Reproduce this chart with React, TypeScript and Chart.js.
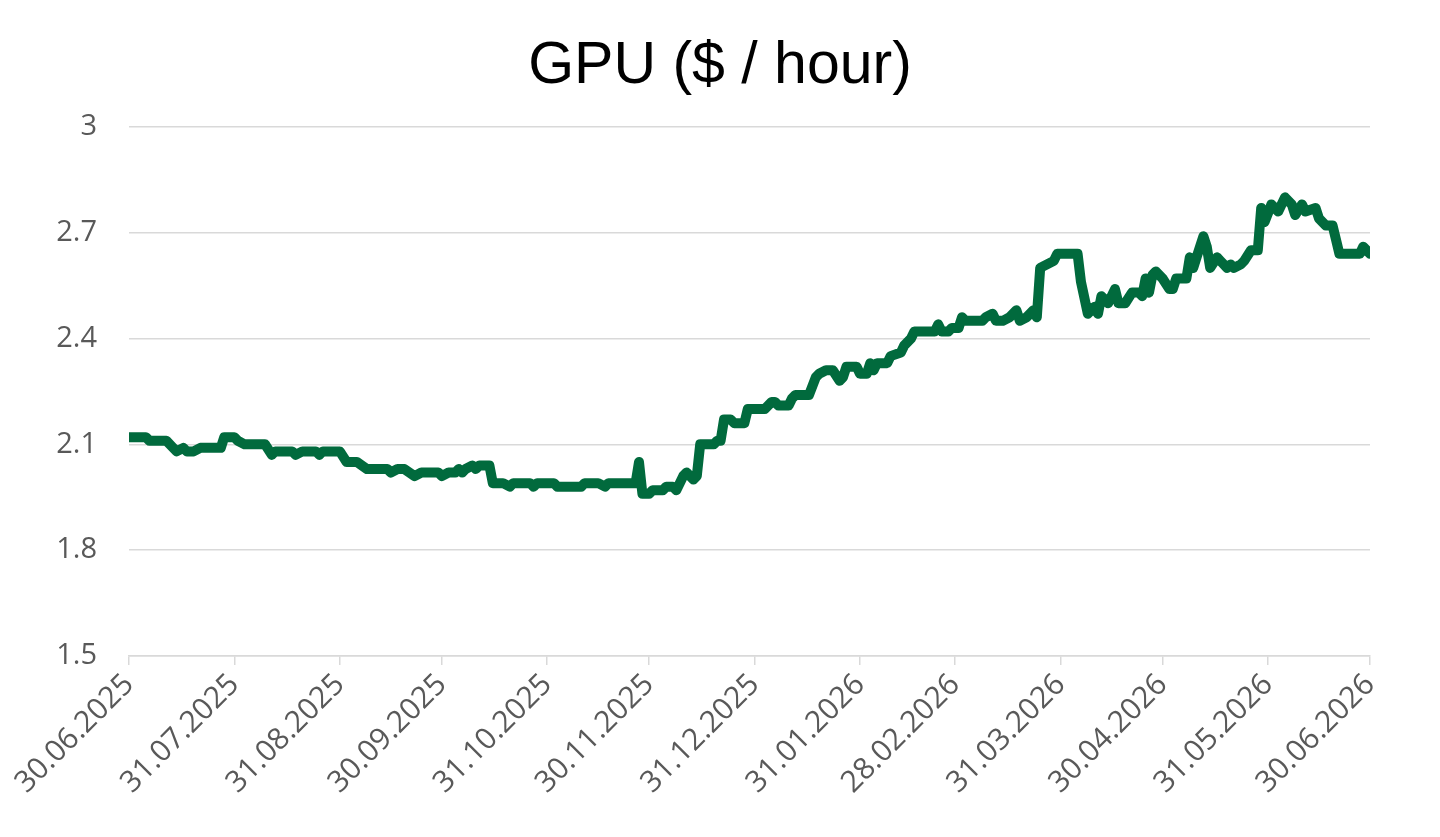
import { useEffect, useRef } from "react";
import { Chart, registerables } from "chart.js";

Chart.register(...registerables);

// Days counted from 30.06.2025
const dayOffsets = [
  0, 5, 6, 11, 13, 14, 16, 17, 19, 21, 27, 28, 31, 32, 34, 40, 42, 43, 48, 49,
  51, 55, 56, 57, 62, 64, 67, 70, 76, 77, 79, 81, 84, 86, 91, 92, 94, 96, 97, 98,
  99, 101, 102, 103, 106, 107, 110, 112, 113, 118, 119, 120, 125, 126, 133, 134, 138, 140, 141, 149,
  150, 151, 153, 154, 157, 158, 160, 161, 163, 164, 166, 167, 168, 172, 173, 174, 175, 177, 178, 181,
  182, 187, 189, 190, 191, 194, 195, 196, 200, 202, 203, 205, 207, 209, 210, 211, 214, 215, 217, 218,
  219, 220, 223, 224, 227, 228, 230, 231, 237, 238, 239, 241, 242, 244, 245, 246, 251, 252, 254, 255,
  257, 259, 261, 262, 264, 266, 267, 268, 270, 272, 273, 279, 280, 282, 284, 285, 286, 288, 290, 291,
  293, 295, 297, 298, 299, 300, 301, 302, 304, 306, 307, 308, 311, 312, 313, 314, 316, 317, 318, 320,
  321, 323, 324, 325, 327, 328, 330, 332, 333, 334, 336, 338, 340, 342, 343, 345, 346, 349, 350, 352,
  354, 355, 356, 362, 363, 365,
];

// GPU price, $ per hour
const gpuPrices = [
  2.12, 2.12, 2.11, 2.11, 2.09, 2.08, 2.09, 2.08, 2.08, 2.09, 2.09, 2.12, 2.12, 2.11, 2.10, 2.10, 2.07, 2.08, 2.08, 2.07,
  2.08, 2.08, 2.07, 2.08, 2.08, 2.05, 2.05, 2.03, 2.03, 2.02, 2.03, 2.03, 2.01, 2.02, 2.02, 2.01, 2.02, 2.02, 2.03, 2.02,
  2.03, 2.04, 2.03, 2.04, 2.04, 1.99, 1.99, 1.98, 1.99, 1.99, 1.98, 1.99, 1.99, 1.98, 1.98, 1.99, 1.99, 1.98, 1.99, 1.99,
  2.05, 1.96, 1.96, 1.97, 1.97, 1.98, 1.98, 1.97, 2.01, 2.02, 2.00, 2.01, 2.10, 2.10, 2.11, 2.11, 2.17, 2.17, 2.16, 2.16,
  2.20, 2.20, 2.22, 2.22, 2.21, 2.21, 2.23, 2.24, 2.24, 2.29, 2.30, 2.31, 2.31, 2.28, 2.29, 2.32, 2.32, 2.30, 2.30, 2.33,
  2.31, 2.33, 2.33, 2.35, 2.36, 2.38, 2.40, 2.42, 2.42, 2.44, 2.42, 2.42, 2.43, 2.43, 2.46, 2.45, 2.45, 2.46, 2.47, 2.45,
  2.45, 2.46, 2.48, 2.45, 2.46, 2.48, 2.46, 2.60, 2.61, 2.62, 2.64, 2.64, 2.56, 2.47, 2.49, 2.47, 2.52, 2.50, 2.54, 2.50,
  2.50, 2.53, 2.53, 2.52, 2.57, 2.53, 2.58, 2.59, 2.57, 2.54, 2.54, 2.57, 2.57, 2.63, 2.60, 2.63, 2.69, 2.66, 2.60, 2.63,
  2.62, 2.60, 2.61, 2.60, 2.61, 2.62, 2.65, 2.65, 2.77, 2.73, 2.78, 2.76, 2.80, 2.78, 2.75, 2.78, 2.76, 2.77, 2.74, 2.72,
  2.72, 2.68, 2.64, 2.64, 2.66, 2.64,
];

// Month-end ticks on the date axis
const xTickDays = [0, 31, 62, 92, 123, 153, 184, 215, 243, 274, 304, 335, 365];
const xTickLabels = [
  "30.06.2025", "31.07.2025", "31.08.2025", "30.09.2025", "31.10.2025", "30.11.2025",
  "31.12.2025", "31.01.2026", "28.02.2026", "31.03.2026", "30.04.2026", "31.05.2026", "30.06.2026",
];
const yTicks = [1.5, 1.8, 2.1, 2.4, 2.7, 3];

const FONT_FAMILY = "'Open Sans', 'Liberation Sans', sans-serif";
const TICK_COLOR = "#595959";
const GRID_COLOR = "#d9d9d9";

export default function App() {
  const canvasRef = useRef<HTMLCanvasElement | null>(null);

  useEffect(() => {
    if (!canvasRef.current) return;
    const chart = new Chart(canvasRef.current, {
      type: "line",
      data: {
        datasets: [
          {
            data: dayOffsets.map((d, i) => ({ x: d, y: gpuPrices[i] })),
            borderColor: "#016a3d",
            borderWidth: 10,
            pointRadius: 0,
            tension: 0,
            borderJoinStyle: "round",
            borderCapStyle: "round",
          },
        ],
      },
      options: {
        responsive: false,
        animation: false,
        layout: { padding: 0 },
        plugins: {
          legend: { display: false },
          tooltip: { enabled: false },
          title: {
            display: true,
            text: "GPU ($ / hour)",
            color: "#000000",
            font: { family: "'Liberation Sans', Arial, sans-serif", size: 59, weight: "normal" },
            padding: { top: 31, bottom: 25 },
          },
        },
        scales: {
          x: {
            type: "linear",
            min: 0,
            max: 365,
            afterBuildTicks: (scale: any) => {
              scale.ticks = xTickDays.map((v) => ({ value: v }));
            },
            afterFit: (scale: any) => {
              scale.height = 181;
            },
            ticks: {
              autoSkip: false,
              maxRotation: 45,
              minRotation: 45,
              padding: 2,
              color: TICK_COLOR,
              font: { family: FONT_FAMILY, size: 30 },
              callback: (_v: any, i: number) => xTickLabels[i],
            },
            grid: {
              drawOnChartArea: false,
              drawTicks: true,
              tickLength: 9,
              color: GRID_COLOR,
              lineWidth: 1.5,
            },
            border: { display: true, color: GRID_COLOR, width: 1.5 },
          },
          y: {
            type: "linear",
            position: "left",
            min: 1.5,
            max: 3,
            afterBuildTicks: (scale: any) => {
              scale.ticks = yTicks.map((v) => ({ value: v }));
            },
            afterFit: (scale: any) => {
              scale.width = 129;
            },
            ticks: {
              padding: 32,
              color: TICK_COLOR,
              font: { family: FONT_FAMILY, size: 29 },
              callback: (v: any) => String(v),
            },
            grid: { color: GRID_COLOR, lineWidth: 1.5, drawTicks: false },
            border: { display: false },
          },
          // empty right-hand gutter so the plot ends short of the canvas edge
          gutter: {
            type: "linear",
            position: "right",
            display: true,
            ticks: { display: false },
            grid: { display: false, drawTicks: false },
            border: { display: false },
            afterFit: (scale: any) => {
              scale.width = 70;
            },
          },
        },
      },
    });
    return () => chart.destroy();
  }, []);

  return (
    <div style={{ position: "fixed", left: 0, top: 0, width: 1440, height: 837, background: "#ffffff" }}>
      <canvas ref={canvasRef} width={1440} height={837} />
    </div>
  );
}
